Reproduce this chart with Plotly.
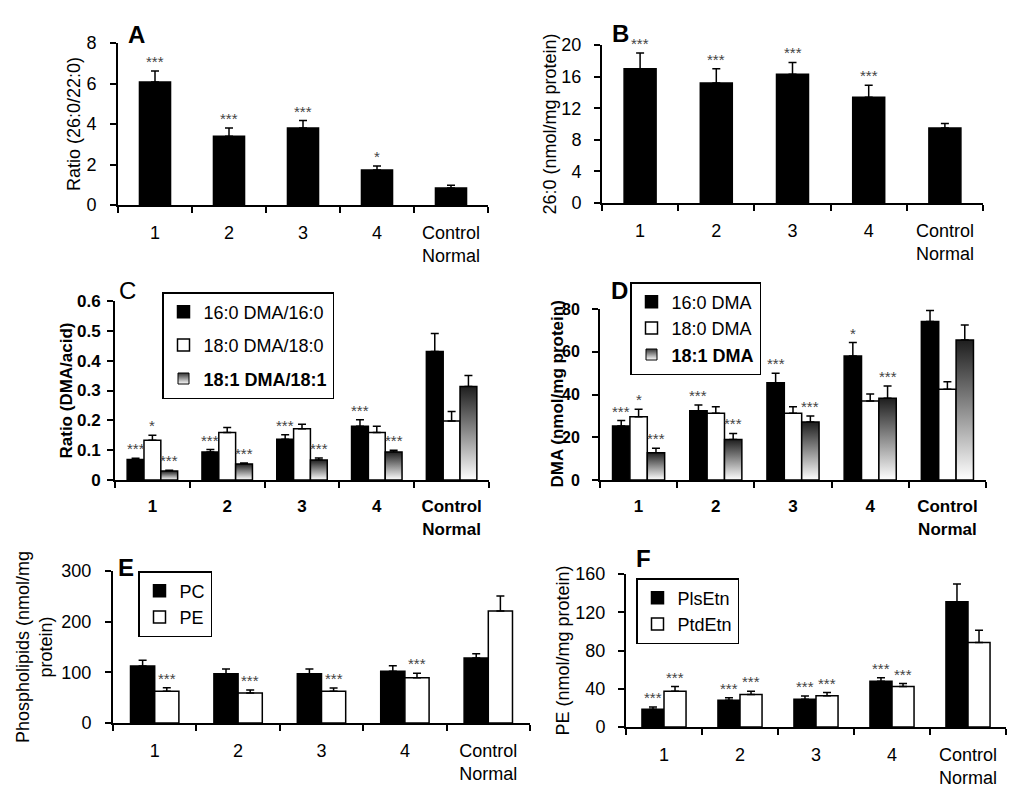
import plotly.graph_objects as go

W, H = 1026, 807
FONT = "Arial, Liberation Sans, sans-serif"

categories = ["1", "2", "3", "4", "Control<br>Normal"]

# Panel A
a_vals = [6.07, 3.40, 3.80, 1.73, 0.84]
a_err = [0.55, 0.40, 0.37, 0.20, 0.14]
a_sig = ["***", "***", "***", "*", ""]
# Panel B
b_vals = [17.0, 15.2, 16.3, 13.4, 9.5]
b_err = [2.0, 1.8, 1.5, 1.5, 0.55]
b_sig = ["***", "***", "***", "***", ""]
# Panel C
c_160 = [0.069, 0.094, 0.137, 0.180, 0.431]
c_160_err = [0.004, 0.008, 0.015, 0.022, 0.060]
c_160_sig = ["***", "***", "***", "***", ""]
c_180 = [0.133, 0.159, 0.172, 0.159, 0.198]
c_180_err = [0.017, 0.017, 0.015, 0.021, 0.032]
c_180_sig = ["*", "", "", "", ""]
c_181 = [0.030, 0.054, 0.067, 0.094, 0.313]
c_181_err = [0.003, 0.003, 0.007, 0.006, 0.037]
c_181_sig = ["***", "***", "***", "***", ""]
# Panel D
d_160 = [25.3, 32.4, 45.5, 58.0, 74.1]
d_160_err = [2.5, 2.7, 4.4, 6.3, 5.2]
d_160_sig = ["***", "***", "***", "*", ""]
d_180 = [29.6, 31.2, 31.2, 37.0, 42.4]
d_180_err = [3.5, 3.1, 3.1, 3.2, 3.6]
d_180_sig = ["*", "", "", "", ""]
d_181 = [12.8, 19.0, 27.1, 38.2, 65.5]
d_181_err = [2.0, 2.8, 2.9, 5.8, 7.0]
d_181_sig = ["***", "***", "***", "***", ""]
# Panel E
e_pc = [112.5, 97.4, 97.4, 102.0, 128.3]
e_pc_err = [11.2, 9.2, 9.2, 11.0, 8.5]
e_pc_sig = ["", "", "", "", ""]
e_pe = [62.5, 59.2, 62.5, 89.5, 221.0]
e_pe_err = [7.2, 5.9, 6.5, 8.5, 29.7]
e_pe_sig = ["***", "***", "***", "***", ""]
# Panel F
f_pls = [18.5, 28.0, 29.0, 47.9, 131.0]
f_pls_err = [2.5, 2.7, 3.5, 3.5, 18.5]
f_pls_sig = ["***", "***", "***", "***", ""]
f_ptd = [37.4, 33.9, 32.8, 42.3, 88.4]
f_ptd_err = [4.9, 3.5, 3.2, 3.1, 12.9]
f_ptd_sig = ["***", "***", "***", "***", ""]

xpos = list(range(len(categories)))
fig = go.Figure()
annotations = []

GRAD = [[0, "#ffffff"], [1, "#1e1e1e"]]


def err_dict(errs):
    return dict(type="data", array=errs, arrayminus=[0] * len(errs), symmetric=False,
                color="black", thickness=1.5, width=4)


def stars(sig, vals, errs, off, w, xr, yr):
    for i, s in enumerate(sig):
        if s:
            annotations.append(dict(x=xpos[i] + off + w / 2, y=vals[i] + errs[i], xref=xr, yref=yr,
                                    text=s, showarrow=False, yanchor="bottom", yshift=-1,
                                    font=dict(size=15, color="#444", family=FONT)))


def add_bar(vals, errs, sig, off, w, color, name, xr, yr, legend=None, bold=False):
    fig.add_trace(go.Bar(x=xpos, y=vals, width=w, offset=off, name=("<b>%s</b>" % name) if bold else name,
                         marker=dict(color=color, line=dict(color="black", width=1.5)),
                         error_y=err_dict(errs), xaxis=xr, yaxis=yr, legendgroup=name,
                         showlegend=legend is not None, legend=legend or "legend"))
    stars(sig, vals, errs, off, w, xr, yr)


def add_grad_bar(vals, errs, sig, off, w, name, xr, yr, legend):
    # transparent bar carrying the error bars
    fig.add_trace(go.Bar(x=xpos, y=vals, width=w, offset=off, marker=dict(color="rgba(0,0,0,0)",
                         line=dict(width=0)), error_y=err_dict(errs), xaxis=xr, yaxis=yr,
                         showlegend=False, hoverinfo="skip"))
    for i, v in enumerate(vals):
        x0, x1 = xpos[i] + off, xpos[i] + off + w
        fig.add_trace(go.Scatter(x=[x0, x0, x1, x1, x0], y=[0, v, v, 0, 0], mode="lines",
                                 fill="toself", fillgradient=dict(type="vertical", colorscale=GRAD),
                                 line=dict(color="black", width=1.5), xaxis=xr, yaxis=yr,
                                 showlegend=False, hoverinfo="skip"))
    fig.add_trace(go.Scatter(x=[None], y=[None], mode="markers", name="<b>%s</b>" % name,
                             legendgroup=name,
                             marker=dict(symbol="square", size=11, color="#333333",
                                         gradient=dict(type="vertical", color="#ffffff"),
                                         line=dict(color="black", width=1)),
                             xaxis=xr, yaxis=yr, legend=legend, showlegend=True))
    stars(sig, vals, errs, off, w, xr, yr)


# A
add_bar(a_vals, a_err, a_sig, -0.21, 0.42, "black", "A", "x", "y")
# B
add_bar(b_vals, b_err, b_sig, -0.21, 0.42, "black", "B", "x2", "y2")
# C
wc = 0.225
add_bar(c_160, c_160_err, c_160_sig, -1.5 * wc, wc, "black", "16:0 DMA/16:0", "x3", "y3", "legend")
add_bar(c_180, c_180_err, c_180_sig, -0.5 * wc, wc, "white", "18:0 DMA/18:0", "x3", "y3", "legend")
add_grad_bar(c_181, c_181_err, c_181_sig, 0.5 * wc, wc, "18:1 DMA/18:1", "x3", "y3", "legend")
# D
add_bar(d_160, d_160_err, d_160_sig, -1.5 * wc, wc, "black", "16:0 DMA", "x4", "y4", "legend2")
add_bar(d_180, d_180_err, d_180_sig, -0.5 * wc, wc, "white", "18:0 DMA", "x4", "y4", "legend2")
add_grad_bar(d_181, d_181_err, d_181_sig, 0.5 * wc, wc, "18:1 DMA", "x4", "y4", "legend2")
# E
we = 0.29
add_bar(e_pc, e_pc_err, e_pc_sig, -we, we, "black", "PC", "x5", "y5", "legend3")
add_bar(e_pe, e_pe_err, e_pe_sig, 0, we, "white", "PE", "x5", "y5", "legend3")
# F
add_bar(f_pls, f_pls_err, f_pls_sig, -we, we, "black", "PlsEtn", "x6", "y6", "legend4")
add_bar(f_ptd, f_ptd_err, f_ptd_sig, 0, we, "white", "PtdEtn", "x6", "y6", "legend4")


def px_x(a, b):
    return [a / W, b / W]


def px_y(top, bottom):
    return [1 - bottom / H, 1 - top / H]


panels = [
    # xdomain px, ydomain px, yrange, dtick, title, bold, tick size, y label standoff,
    # title standoff (None = annotation), letter, letter pos, letter bold
    ((118, 488), (43, 205), [0, 8], 2, "Ratio (26:0/22:0)", False, 18, 10, 1, "A", (136, 35), True),
    ((602, 983), (45, 203), [0, 20], 4, "26:0 (nmol/mg protein)", False, 18, 9, 0, "B", (620, 33), True),
    ((115, 489), (301, 480), [0, 0.6], 0.1, "Ratio (DMA/acid)", True, 17, 3, 0, "C", (127, 291), False),
    ((600, 986), (309, 480), [0, 80], 20, "DMA (nmol/mg protein)", True, 16, 9, None, "D", (619, 291), True),
    ((113, 530), (571, 723), [0, 300], 100, "Phospholipids (nmol/mg<br>protein)", False, 18, 10, 4, "E", (126, 567), True),
    ((626, 1006), (574, 727), [0, 160], 40, "PE (nmol/mg protein)", False, 18, 9, 1, "F", (643, 558), True),
]
D_TITLE_X = 557

layout = dict(width=W, height=H, margin=dict(l=0, r=0, t=0, b=0, autoexpand=False), paper_bgcolor="white",
              plot_bgcolor="white", barmode="overlay", font=dict(family=FONT, color="black", size=18))

for k, (xd, yd, yr, dt, title, bold, tsize, lsto, sto, letter, lpos, lbold) in enumerate(panels):
    n = "" if k == 0 else str(k + 1)
    wt = "bold" if bold else "normal"
    tfont = dict(family=FONT, size=tsize, color="black", weight=wt)
    xfont = dict(family=FONT, size=17 if bold else 18, color="black", weight=wt)
    titfont = dict(family=FONT, size=17 if bold else 18, color="black", weight=wt)
    layout["xaxis" + n] = dict(domain=px_x(*xd), range=[-0.5, 4.5], anchor="y" + n, automargin=False,
                               tickmode="array", tickvals=xpos, ticktext=categories, ticks="",
                               showline=True, linecolor="black", linewidth=2, showgrid=False,
                               zeroline=False, tickfont=xfont, ticklabelstandoff=10,
                               minor=dict(tickmode="array", tickvals=[-0.5, 0.5, 1.5, 2.5, 3.5, 4.5],
                                          ticks="outside", ticklen=6, tickwidth=2, tickcolor="black",
                                          showgrid=False),
                               fixedrange=True)
    ya = dict(domain=px_y(*yd), range=yr, dtick=dt, tick0=0, anchor="x" + n,
              automargin=False,
              showline=True, linecolor="black", linewidth=2, ticks="outside",
              ticklen=6, tickwidth=2, tickcolor="black", showgrid=False,
              zeroline=False, tickfont=tfont, ticklabelstandoff=lsto, fixedrange=True)
    if sto is not None:
        ya["title"] = dict(text=title, font=titfont, standoff=sto)
    else:
        annotations.append(dict(x=D_TITLE_X / W, y=sum(px_y(*yd)) / 2, xref="paper", yref="paper",
                                text=title, textangle=-90, showarrow=False, xanchor="center",
                                yanchor="middle", font=titfont))
    layout["yaxis" + n] = ya
    annotations.append(dict(x=lpos[0] / W, y=1 - lpos[1] / H, xref="paper", yref="paper",
                            text=("<b>%s</b>" % letter) if lbold else letter, showarrow=False,
                            xanchor="center", yanchor="middle",
                            font=dict(family=FONT, size=24, color="black")))

leg_common = dict(xanchor="left", yanchor="top", bordercolor="black", borderwidth=1.5,
                  bgcolor="white", font=dict(family=FONT, size=18, color="black"),
                  itemwidth=30, itemclick=False, itemdoubleclick=False)
layout["legend"] = dict(x=162 / W, y=1 - 292 / H, tracegroupgap=7, **leg_common)
layout["legend2"] = dict(x=630 / W, y=1 - 282 / H, tracegroupgap=0, **leg_common)
layout["legend3"] = dict(x=138 / W, y=1 - 571 / H, tracegroupgap=0, **leg_common)
layout["legend4"] = dict(x=636 / W, y=1 - 578 / H, tracegroupgap=0, **leg_common)
layout["annotations"] = annotations

fig.update_layout(**layout)
fig.write_html("out.html", config={"displayModeBar": False},
               post_script="document.body.style.margin='0';")
